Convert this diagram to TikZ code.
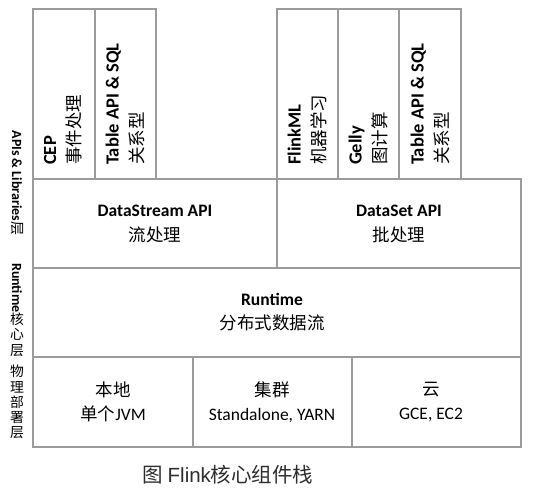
\documentclass[tikz,border=0pt]{standalone}
\usepackage{fontspec}
\setmainfont{Carlito}
\newfontfamily\cjk{Noto Sans CJK SC}
\newfontfamily\capfont{Liberation Sans}
\usetikzlibrary{fit}
\definecolor{linegray}{RGB}{155,155,155}
\definecolor{capgray}{RGB}{45,45,45}
\begin{document}
\begin{tikzpicture}[x=1pt,y=-1pt,
  box/.style={draw=linegray, line width=1.5pt, inner sep=0pt},
  lab/.style={font=\fontsize{17.5}{24.5}\selectfont, align=center, inner sep=0pt},
  vlab/.style={font=\fontsize{18.5}{24.5}\selectfont, rotate=90, anchor=west, align=left, inner sep=0pt},
  side/.style={font=\fontsize{14}{14.5}\selectfont\bfseries, inner sep=0pt},
  sidecjk/.style={font=\fontsize{13.8}{15.3}\selectfont\cjk, align=center, inner sep=0pt, anchor=north}]
\useasboundingbox (0,0) rectangle (533,490);
% boxes
\node[box, fit={(33,9)(95,179)}] (cep) {};
\node[box, fit={(95,9)(156,179)}] (tab1) {};
\node[box, fit={(277,9)(338,179)}] (ml) {};
\node[box, fit={(338,9)(399,179)}] (gelly) {};
\node[box, fit={(399,9)(461,179)}] (tab2) {};
\node[box, fit={(33,179)(277,268)}] (ds) {};
\node[box, fit={(277,179)(521,268)}] (dset) {};
\node[box, fit={(33,268)(521,357)}] (rt) {};
\node[box, fit={(33,357)(193,447)}] (local) {};
\node[box, fit={(193,357)(352,447)}] (cluster) {};
\node[box, fit={(352,357)(521,447)}] (cloud) {};
% vertical texts
\node[vlab] (tcep) at (63,165) {\textbf{CEP}\\{\cjk\fontsize{17.5}{24.5}\selectfont 事件处理}};
\node[vlab] (ttab1) at (125,165) {\textbf{Table API \& SQL}\\{\cjk\fontsize{17.5}{24.5}\selectfont 关系型}};
\node[vlab] (tml) at (307,165) {\textbf{FlinkML}\\{\cjk\fontsize{17.5}{24.5}\selectfont 机器学习}};
\node[vlab] (tgelly) at (368,165) {\textbf{Gelly}\\{\cjk\fontsize{17.5}{24.5}\selectfont 图计算}};
\node[vlab] (ttab2) at (430,165) {\textbf{Table API \& SQL}\\{\cjk\fontsize{17.5}{24.5}\selectfont 关系型}};
% horizontal texts
\node[lab] (tds) at (155,224) {\textbf{DataStream API}\\{\cjk 流处理}};
\node[lab] (tdset) at (399,224) {\textbf{DataSet API}\\{\cjk 批处理}};
\node[lab] (trt) at (272,312) {\textbf{Runtime}\\{\cjk 分布式数据流}};
\node[lab] (tlocal) at (113,402) {{\cjk 本地}\\{\cjk 单个}JVM};
\node[lab] (tcluster) at (272,402) {{\cjk 集群}\\Standalone, YARN};
\node[lab] (tcloud) at (431,402) {{\cjk 云}\\GCE, EC2};
% side labels
\node[side, rotate=-90] (lapi) at (17,183) {APIs \& Libraries{\cjk\mdseries 层}};
\node[side, rotate=-90, anchor=west] (lrt) at (17,263) {Runtime};
\node[sidecjk] (lrtc) at (lrt.east) {核\\心\\层};
\node[sidecjk] (lphy) at (17,365) {物\\理\\部\\署\\层};
% caption
\node[inner sep=0pt, text=capgray, font=\fontsize{20.5}{20.5}\selectfont] (cap) at (228,475) {{\cjk 图} {\capfont Flink}{\cjk 核心组件栈}};
\end{tikzpicture}
\end{document}
